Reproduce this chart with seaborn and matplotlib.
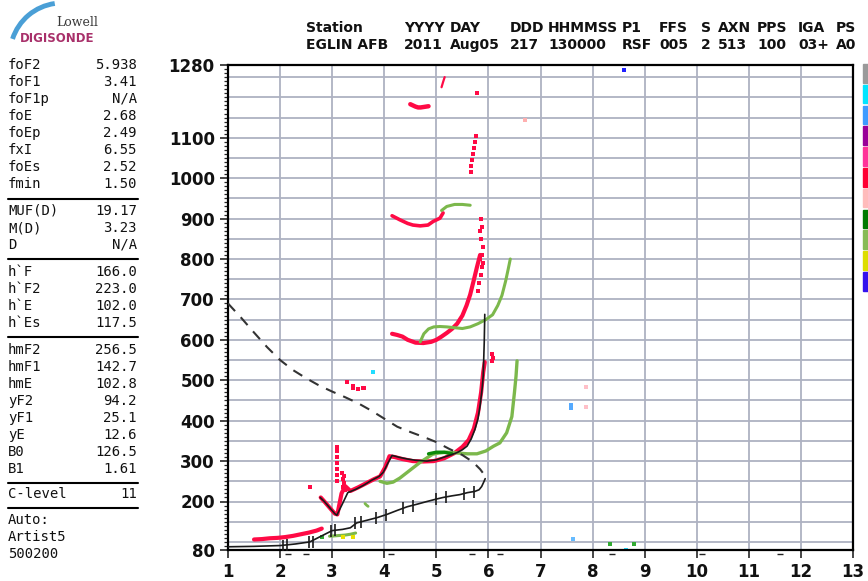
import matplotlib
matplotlib.use("Agg")
import matplotlib.pyplot as plt
import seaborn as sns
from matplotlib.patches import Rectangle, Arc
from matplotlib.ticker import FixedLocator, MultipleLocator

# ---- scaled parameters (left panel) ----
param_names = ["foF2", "foF1", "foF1p", "foE", "foEp", "fxI", "foEs", "fmin",
               "MUF(D)", "M(D)", "D",
               "h`F", "h`F2", "h`E", "h`Es",
               "hmF2", "hmF1", "hmE", "yF2", "yF1", "yE", "B0", "B1",
               "C-level"]
param_values = ["5.938", "3.41", "N/A", "2.68", "2.49", "6.55", "2.52", "1.50",
                "19.17", "3.23", "N/A",
                "166.0", "223.0", "102.0", "117.5",
                "256.5", "142.7", "102.8", "94.2", "25.1", "12.6", "126.5", "1.61",
                "11"]
param_rows = [65, 82, 99, 116, 133, 150, 167, 184,
              211, 228, 245,
              272, 289, 306, 323,
              350, 367, 384, 401, 418, 435, 452, 469,
              494]
sep_rows = [199, 259, 337, 483, 508]
auto_lines = ["Auto:", "Artist5", "500200"]

header_keys = ["Station", "YYYY", "DAY", "DDD", "HHMMSS", "P1", "FFS", "S", "AXN", "PPS", "IGA", "PS"]
header_vals = ["EGLIN AFB", "2011", "Aug05", "217", "130000", "RSF", "005", "2", "513", "100", "03+", "A0"]
header_x = [306, 404, 450, 510, 548, 622, 659, 701, 718, 757, 798, 836]

# ---- ionogram traces (frequency MHz, virtual height km) ----
o_es_f = [1.50, 1.65, 1.80, 1.95, 2.10, 2.25, 2.40, 2.55, 2.70, 2.80]
o_es_h = [106, 107, 109, 110, 112, 115, 119, 123, 128, 133]

o_f_f = [2.78, 2.85, 2.95, 3.05, 3.10, 3.18, 3.25, 3.35, 3.50, 3.65, 3.80, 3.92, 4.02, 4.10,
         4.20, 4.35, 4.55, 4.75, 4.95, 5.15, 5.35, 5.50, 5.62, 5.72, 5.80, 5.86, 5.90, 5.93]
o_f_h = [210, 200, 185, 170, 168, 220, 238, 226, 235, 245, 255, 262, 285, 312,
         310, 305, 300, 299, 300, 307, 320, 335, 352, 380, 420, 470, 520, 545]

o_2f_f = [4.15, 4.25, 4.35, 4.45, 4.60, 4.75, 4.90, 5.00, 5.10, 5.20, 5.30, 5.40, 5.50,
          5.58, 5.65, 5.72, 5.78, 5.84]
o_2f_h = [615, 612, 608, 600, 593, 592, 595, 600, 608, 617, 627, 640, 660,
          685, 712, 748, 780, 810]

o_3f_f = [4.15, 4.30, 4.45, 4.55, 4.69, 4.84, 4.94, 5.07, 5.13]
o_3f_h = [907, 897, 888, 884, 882, 884, 893, 901, 914]

o_4f_f = [4.50, 4.55, 4.60, 4.65, 4.70, 4.75, 4.80, 4.85]
o_4f_h = [1183, 1180, 1177, 1175, 1175, 1176, 1177, 1178]

o_dash_f = [5.10, 5.13, 5.16]
o_dash_h = [1225, 1238, 1250]

o_dots_f = [3.09, 3.09, 3.09, 3.09, 3.09, 3.09, 3.09, 3.18, 3.20, 3.22, 3.20, 3.24, 3.22,
            5.80, 5.82, 5.85, 5.87, 5.84, 5.88, 5.90, 5.86, 5.83, 5.89, 5.87, 5.85,
            5.66, 5.67, 5.68, 5.70, 5.72, 5.74, 5.77, 5.78,
            3.28, 3.40, 3.40, 3.50, 3.59, 3.62, 2.57, 6.07, 6.08, 6.06]
o_dots_h = [250, 265, 280, 295, 310, 325, 335, 270, 255, 245, 235, 228, 262,
            720, 740, 760, 780, 800, 810, 830, 850, 870, 790, 880, 900,
            1015, 1030, 1045, 1060, 1075, 1090, 1105, 1210,
            495, 487, 480, 478, 481, 481, 237, 565, 555, 548]

x_es_f = [2.95, 3.05, 3.15, 3.25, 3.35, 3.45]
x_es_h = [114, 115, 116, 117, 119, 122]

x_f_f = [3.92, 4.05, 4.17, 4.30, 4.44, 4.57, 4.69, 4.82, 4.93, 5.05, 5.20, 5.40, 5.60,
         5.78, 5.95, 6.10, 6.22, 6.35, 6.45, 6.50, 6.53, 6.55]
x_f_h = [250, 245, 248, 258, 272, 285, 297, 308, 317, 320, 322, 320, 318,
         318, 325, 337, 345, 370, 410, 470, 510, 548]

x_f1_f = [3.63, 3.66, 3.69]
x_f1_h = [195, 191, 188]

x_2f_f = [4.69, 4.76, 4.85, 4.95, 5.07, 5.20, 5.35, 5.50, 5.65, 5.80, 5.95, 6.08, 6.18,
          6.26, 6.33, 6.38, 6.42]
x_2f_h = [595, 615, 627, 632, 633, 632, 630, 628, 632, 640, 650, 662, 685,
          710, 745, 775, 800]

x_3f_f = [5.10, 5.20, 5.35, 5.50, 5.65]
x_3f_h = [920, 930, 935, 935, 933]

x_dark_f = [4.85, 5.00, 5.15, 5.30]
x_dark_h = [318, 322, 322, 318]

# O-trace fit, true-height profile and its topside extension
fit_f = [2.77, 2.85, 2.95, 3.05, 3.09, 3.20, 3.30, 3.45, 3.60, 3.75, 3.90, 3.98, 4.07, 4.15,
         4.30, 4.45, 4.60, 4.82, 5.00, 5.13, 5.27, 5.40, 5.50, 5.59, 5.67, 5.74, 5.80, 5.84,
         5.88, 5.90, 5.92, 5.93]
fit_h = [210, 200, 185, 170, 166, 195, 222, 230, 240, 252, 262, 272, 295, 314,
         309, 305, 302, 300, 303, 309, 315, 321, 328, 337, 355, 378, 405, 437,
         480, 511, 595, 663]

prof_f = [1.00, 1.50, 2.00, 2.30, 2.57, 2.80, 3.00, 3.20, 3.35, 3.47, 3.65, 3.86, 4.05, 4.25,
          4.44, 4.65, 4.82, 5.00, 5.13, 5.30, 5.45, 5.60, 5.74, 5.82, 5.87, 5.91, 5.938]
prof_h = [88, 89, 91, 95, 100, 115, 128, 131, 135, 147, 153, 160, 168, 178,
          187, 194, 200, 206, 210, 214, 217, 222, 225, 229, 237, 248, 256.5]

tick_f = [2.05, 2.14, 2.55, 2.64, 2.97, 3.06, 3.44, 3.55, 3.85, 4.03, 4.36, 4.55, 5.00, 5.19, 5.53, 5.72]
tick_h = [91, 92, 99, 101, 127, 129, 146, 149, 160, 167, 185, 190, 206, 211, 219, 224]

ext_f = [1.00, 1.25, 1.50, 1.75, 2.00, 2.25, 2.50, 2.75, 3.00, 3.25, 3.50, 3.75, 4.00, 4.25,
         4.50, 4.75, 5.00, 5.25, 5.50, 5.70, 5.84, 5.91, 5.938]
ext_h = [690, 655, 618, 582, 550, 525, 505, 487, 472, 458, 443, 425, 405, 385,
         372, 360, 347, 330, 315, 298, 280, 268, 256.5]

misc_f = [8.60, 7.58, 7.58, 7.62, 7.87, 7.87, 3.78, 8.64, 8.33, 8.80, 6.70, 2.80, 3.20, 3.40]
misc_h = [1268, 440, 432, 107, 483, 433, 520, 81, 95, 95, 1145, 112, 112, 113]
misc_c = ["#2020ff", "#55aaff", "#55aaff", "#66bbff", "#ffc0c8", "#ffc0c8", "#22ddff",
          "#22ddff", "#33aa33", "#33aa33", "#ffb0b0", "#33aa33", "#e8e000", "#e8e000"]

marks_f = [2.15, 2.49, 4.13, 5.68, 6.22, 8.38, 10.1, 11.6]

legend_colors = ["#9a9a9a", "#00e5ff", "#3d9bff", "#990099", "#ff3399", "#ff0033",
                 "#ffbbbb", "#007a00", "#88bb55", "#dddd00", "#3311ee"]

RED = "#ff0a45"
GREEN = "#7cb84c"

sns.set_style("white")
plt.rcParams['font.family'] = ['DejaVu Sans']

fig = plt.figure(figsize=(8.68, 5.81), dpi=100)
ax = fig.add_axes([228 / 868, 1 - 550 / 581, (853 - 228) / 868, (550 - 65) / 581])

# grid
for f in range(2, 13):
    ax.axvline(f, color="#aeb2c2", lw=1.3, zorder=0)
for h in range(100, 1280, 50):
    ax.axhline(h, color="#aeb2c2", lw=1.3, zorder=0)

# echoes (red = O mode, green = X mode)
for ff, hh, c, w in [(o_es_f, o_es_h, RED, 3.0), (o_f_f, o_f_h, RED, 3.0),
                     (o_2f_f, o_2f_h, RED, 3.0), (o_3f_f, o_3f_h, RED, 2.6),
                     (o_4f_f, o_4f_h, RED, 3.2), (o_dash_f, o_dash_h, RED, 1.6),
                     (x_es_f, x_es_h, GREEN, 2.2), (x_f_f, x_f_h, GREEN, 2.4),
                     (x_f1_f, x_f1_h, GREEN, 2.0), (x_2f_f, x_2f_h, GREEN, 2.2),
                     (x_3f_f, x_3f_h, GREEN, 2.2), (x_dark_f, x_dark_h, "#0a8a0a", 2.4)]:
    sns.lineplot(x=ff, y=hh, sort=False, estimator=None, color=c, lw=w, ax=ax, zorder=2)

sns.scatterplot(x=o_dots_f, y=o_dots_h, color=RED, marker="s", s=7, linewidth=0, ax=ax, zorder=2)
for fx, hy, c in zip(misc_f, misc_h, misc_c):
    sns.scatterplot(x=[fx], y=[hy], color=c, marker="s", s=6, linewidth=0, ax=ax, zorder=2)

# fitted trace, profile, extension
sns.lineplot(x=fit_f, y=fit_h, sort=False, estimator=None, color="#1a1a1a", lw=1.2, ax=ax, zorder=3)
sns.lineplot(x=prof_f, y=prof_h, sort=False, estimator=None, color="#1a1a1a", lw=1.2, ax=ax, zorder=3)
sns.lineplot(x=ext_f, y=ext_h, sort=False, estimator=None, color="#333333", lw=1.5,
             ax=ax, zorder=3).lines[-1].set_dashes((5, 4))
ax.plot(tick_f, tick_h, ls="none", marker="|", ms=9, mew=1.2, color="#1a1a1a", zorder=3)

# small marks below the axis
ax.plot(marks_f, [69] * len(marks_f), ls="none", marker="_", ms=4, mew=1, color="#222222",
        clip_on=False)

ax.set_xlim(1, 13)
ax.set_ylim(80, 1280)
ax.xaxis.set_major_locator(MultipleLocator(1))
ax.yaxis.set_major_locator(FixedLocator([80, 200, 300, 400, 500, 600, 700, 800, 900, 1000, 1100, 1280]))
ax.yaxis.set_minor_locator(MultipleLocator(10))
ax.tick_params(axis="both", which="major", direction="out", length=6, width=1.2, labelsize=12,
               left=True, bottom=True)
ax.tick_params(axis="y", which="minor", direction="out", length=3, width=0.9, left=True)
for lab in ax.get_xticklabels() + ax.get_yticklabels():
    lab.set_fontweight("bold")
    lab.set_color("#111111")
for s in ax.spines.values():
    s.set_color("black")
    s.set_linewidth(1.6)
ax.set_xlabel("")
ax.set_ylabel("")

# overlay in pixel coordinates for the text panels
ov = fig.add_axes([0, 0, 1, 1], facecolor="none")
ov.set_xlim(0, 868)
ov.set_ylim(581, 0)
ov.axis("off")

ov.add_patch(Arc((62, 55), 104, 104, theta1=198, theta2=262, color="#4a9fd6", lw=3.5))
ov.text(56, 23, "Lowell", fontsize=9, family="DejaVu Serif", color="#3a3a3a", va="center")
ov.text(20, 38, "DIGISONDE", fontsize=8.5, fontweight="bold", color="#a8306a", va="center")

for name, val, y in zip(param_names, param_values, param_rows):
    ov.text(8, y, name, family="DejaVu Sans Mono", fontsize=10, va="center", color="#111111")
    ov.text(137, y, val, family="DejaVu Sans Mono", fontsize=10, va="center", ha="right",
            color="#111111")
for y in sep_rows:
    ov.plot([8, 138], [y, y], color="black", lw=1.5)
for i, t in enumerate(auto_lines):
    ov.text(8, 520 + 17 * i, t, family="DejaVu Sans Mono", fontsize=10, va="center", color="#111111")

for k, v, x in zip(header_keys, header_vals, header_x):
    ov.text(x, 28, k, fontsize=10, fontweight="bold", va="center", color="#111111")
    ov.text(x, 45, v, fontsize=10, fontweight="bold", va="center", color="#111111")

for i, c in enumerate(legend_colors):
    ov.add_patch(Rectangle((863, 64 + 20.8 * i), 10, 18.5, color=c, clip_on=False))

fig.savefig("out.png", dpi=100)
